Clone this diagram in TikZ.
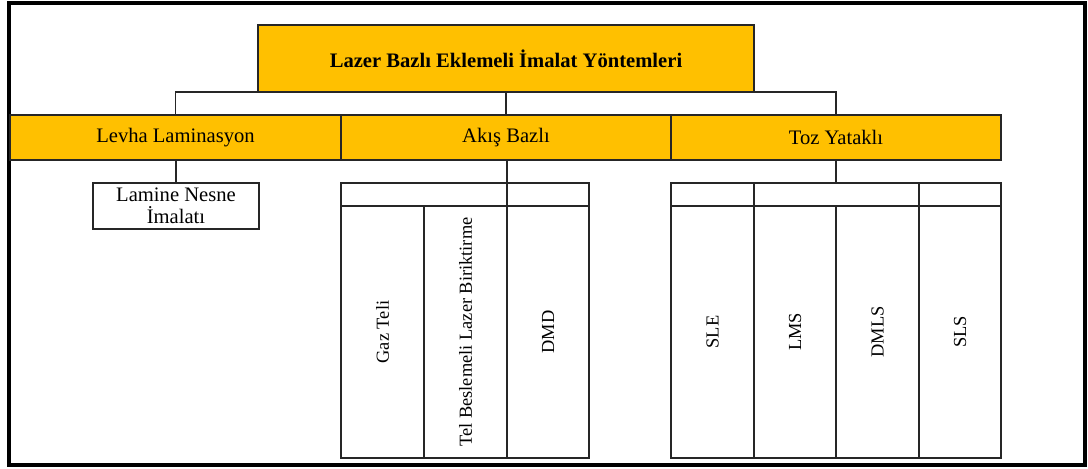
\documentclass[tikz,border=0pt]{standalone}
\usepackage{fontspec}
\setmainfont{Liberation Serif}
\definecolor{excelgold}{HTML}{FFC000}
\definecolor{edgegray}{HTML}{262626}
\tikzset{
    box/.style={draw=edgegray, line width=1pt, anchor=north west, inner sep=0pt, outer sep=0pt,
        font=\fontsize{10.3}{11}\selectfont, align=center},
    goldbox/.style={box, fill=excelgold},
    headbox/.style={box, line width=0.7pt, minimum height=11.5pt},
    colbox/.style={box, minimum width=41.5pt, minimum height=126pt, font=\fontsize{9.2}{10}\selectfont},
    link/.style={draw=edgegray, line width=0.6pt}
}
\begin{document}
\begin{tikzpicture}[x=0.5pt, y=-0.5pt]
    \useasboundingbox (0,0) rectangle (1088,468);
    \draw[line width=1.75pt] (9,3) rectangle (1085,465);

    % top
    \node[goldbox, minimum width=248pt, minimum height=33.5pt] (top) at (258,25)
        {\textbf{Lazer Bazlı Eklemeli İmalat Yöntemleri}};

    % level 2
    \node[goldbox, minimum width=165.5pt, minimum height=22.5pt] (levha) at (10,115) {Levha Laminasyon};
    \node[goldbox, minimum width=165pt, minimum height=22.5pt] (akis) at (341,115) {Akış Bazlı};
    \node[goldbox, minimum width=165pt, minimum height=22.5pt] (toz) at (671,115) {Toz Yataklı};

    \draw[link] (levha.north) |- (top.south);
    \draw[link] (akis.north) -- (top.south);
    \draw[link] (toz.north) |- (top.south);

    % Levha
    \node[box, minimum width=83pt, minimum height=23pt] (lamine) at (93,183) {Lamine Nesne\\İmalatı};
    \draw[link] (lamine.north |- levha.south) -- (lamine.north);

    % Akis
    \node[headbox, minimum width=124pt] (akishead) at (341,183) {};
    \node[colbox] (gaz) at (341,206) {\rotatebox{90}{Gaz Teli}};
    \node[colbox] (tel) at (424,206) {\rotatebox{90}{Tel Beslemeli Lazer Biriktirme}};
    \node[colbox, minimum width=41pt] (dmd) at (507,206) {\rotatebox{90}{DMD}};
    \draw[link] (dmd.north west |- akis.south) -- (dmd.north west);

    % Toz
    \node[headbox, minimum width=165pt] (tozhead) at (671,183) {};
    \node[colbox] (sle) at (671,206) {\rotatebox{90}{SLE}};
    \node[colbox, minimum width=41pt] (lms) at (754,206) {\rotatebox{90}{LMS}};
    \node[colbox] (dmls) at (836,206) {\rotatebox{90}{DMLS}};
    \node[colbox, minimum width=41pt] (sls) at (919,206) {\rotatebox{90}{SLS}};
    \draw[link] (toz.south) -- (tozhead.north);
    \draw[link] (sle.north east) -- (sle.north east |- tozhead.north);
    \draw[link] (sls.north west) -- (sls.north west |- tozhead.north);

\end{tikzpicture}
\end{document}
